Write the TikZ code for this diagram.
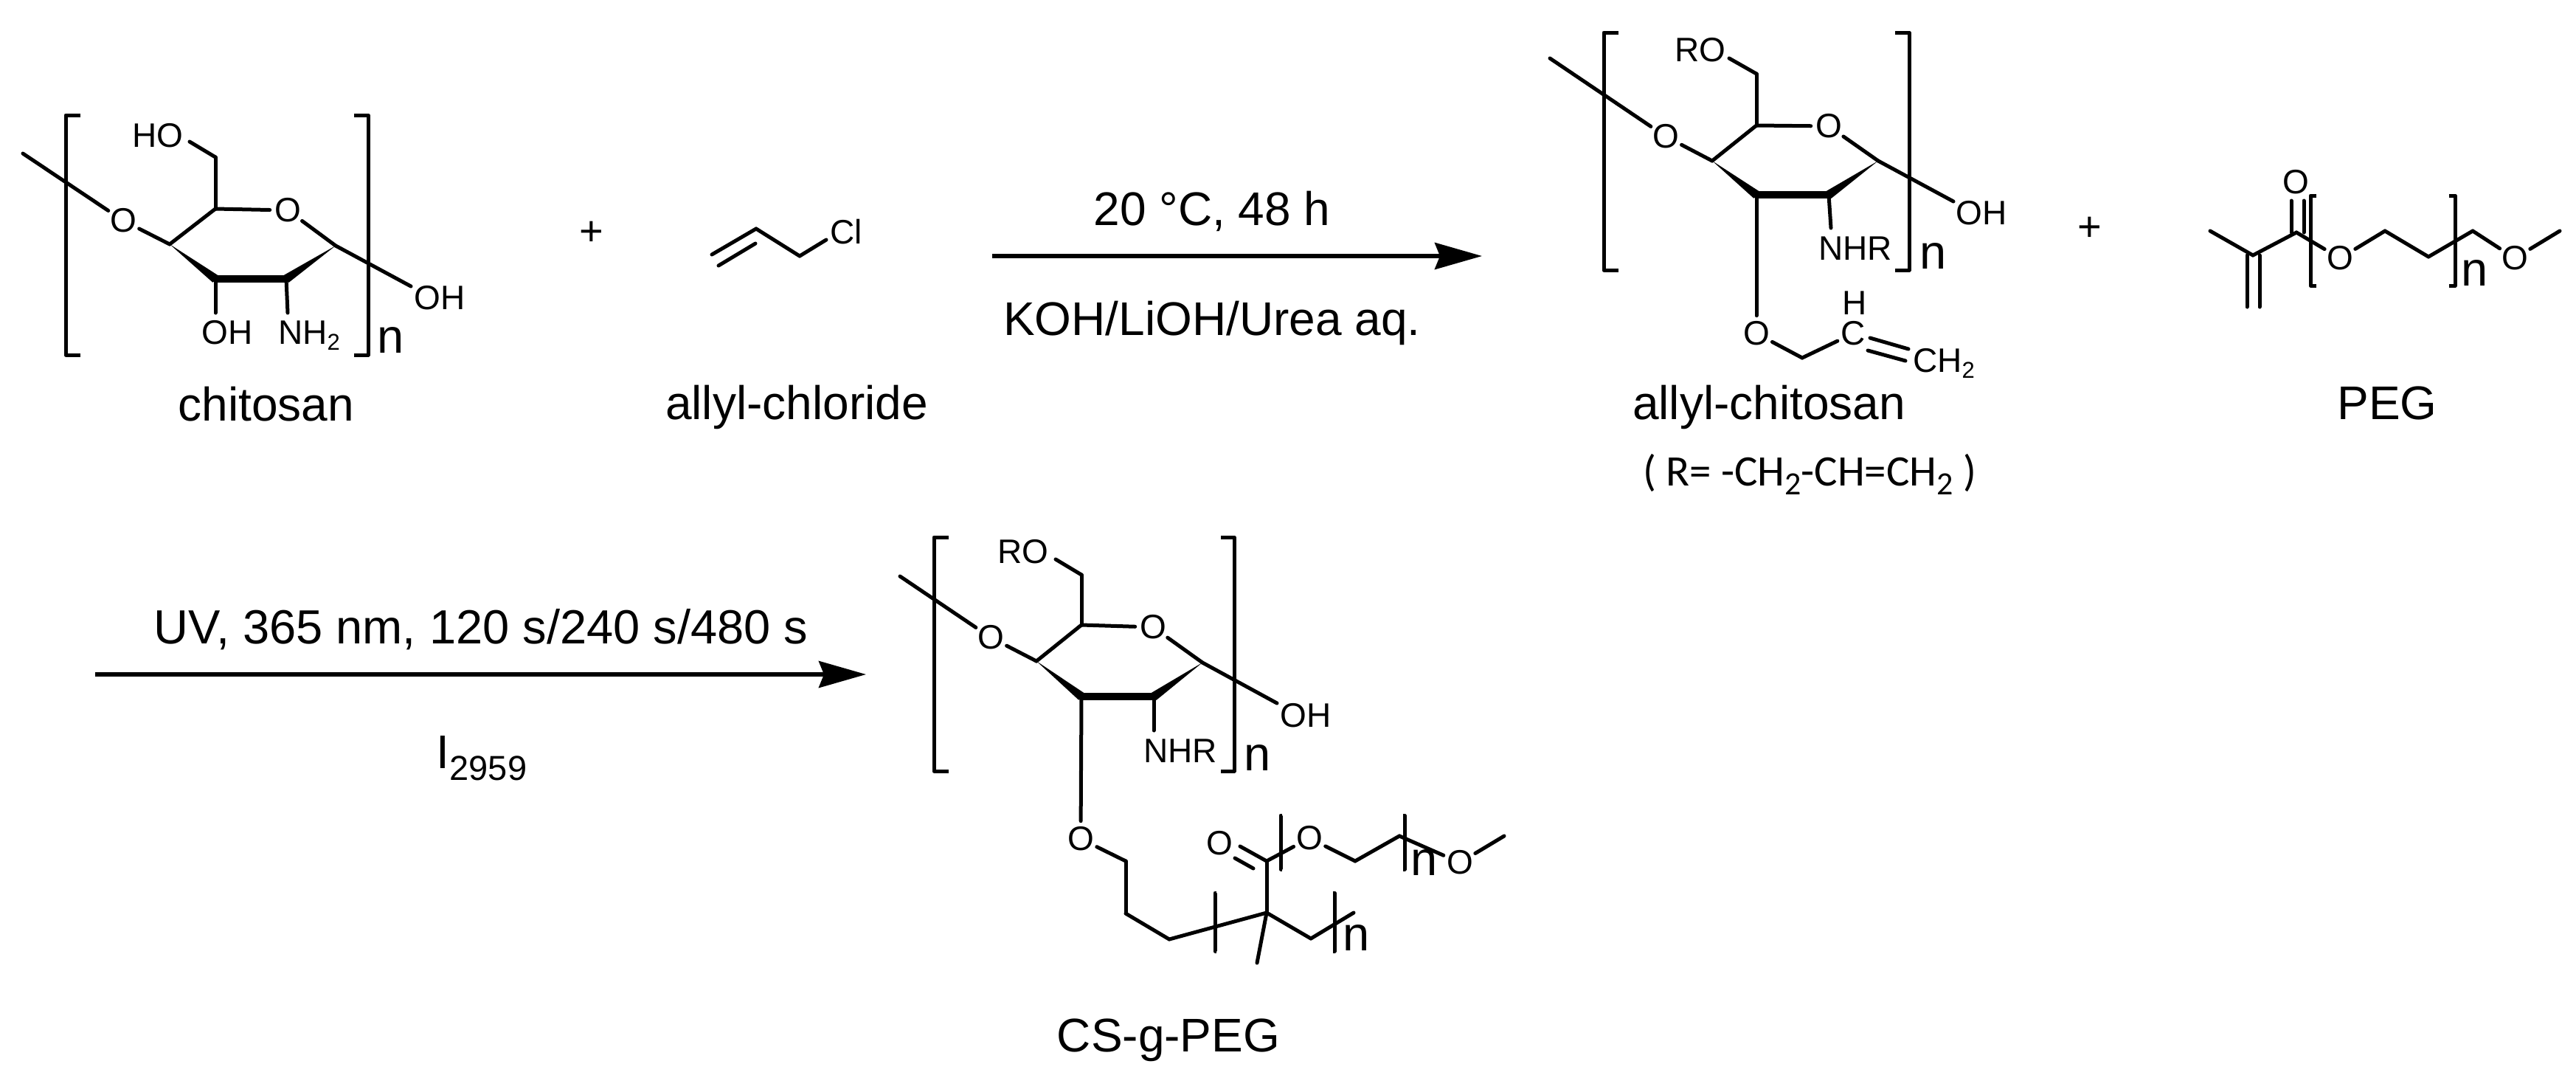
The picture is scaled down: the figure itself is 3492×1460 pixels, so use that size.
\documentclass[tikz,border=0pt]{standalone}
\usepackage{fontspec}
\setmainfont{Liberation Sans}
\newfontfamily\carlitofont{Carlito}
\usetikzlibrary{arrows.meta,calc}
\newcommand{\wedgebond}[2]{\fill ($(#2)!6pt!90:(#1)$) -- (#1) -- ($(#2)!6pt!-90:(#1)$) -- cycle;}
\newcommand{\sugarbonds}[1]{
    \foreach \a/\b in {me/o4,o4/c4,c4/c5,c5/o5,o5/c1,c1/oh,c5/c6,c6/ro,c2/nh}{
        \draw[bond] (#1\a) -- (#1\b);
    };
    \wedgebond{#1c4}{#1c3}
    \wedgebond{#1c1}{#1c2}
    \draw[bar] (#1c3) -- (#1c2);
}
\newcommand{\leftbrak}[4]{\draw[bond,line cap=butt] (#4,#2) -- (#1,#2) -- (#1,#3) -- (#4,#3);}
\newcommand{\subtwo}[1]{\raisebox{-#1pt}{\fontsize{31}{31}\selectfont 2}}
\begin{document}
\begin{tikzpicture}[x=1pt,y=-1pt,
    bond/.style={line width=5pt,line cap=round,line join=round},
    bar/.style={line width=10pt,line cap=round},
    atom/.style={circle,inner sep=0pt,font=\fontsize{46}{50}\selectfont},
    letter/.style={anchor=base,inner sep=0pt,font=\fontsize{46}{50}\selectfont},
    count/.style={anchor=base,inner sep=0pt,font=\fontsize{65}{70}\selectfont},
    tag/.style={inner sep=0pt,anchor=base,font=\fontsize{64}{70}\selectfont},
    reaction/.style={line width=5.5pt,-{Stealth[length=64pt,width=36pt,inset=7pt]}}]
    \useasboundingbox (0,0) rectangle (3492,1460);

    \foreach \n/\x/\y in {me/31/208,c1/455/333,c2/388/378,c3/292/378,c4/230/331,c5/292/283,
            c6/292/213,ro/257/192,oh/557/388,nh/390/424,ol/292/424}{
        \coordinate (a\n) at (\x,\y);
    };
    \node[atom] (ao4) at (167,299) {O};
    \node[atom] (ao5) at (390,285) {O};
    \sugarbonds{a}
    \draw[bond] (ac3) -- (aol);
    \node[letter] (aho) at (214,199) {HO};
    \node[letter] (aohr) at (596,419) {OH};
    \node[letter] (aohd) at (308,466) {OH};
    \node[letter,anchor=base west] (anh) at (377,466) {NH\subtwo{8}};
    \leftbrak{89}{156}{481}{109}
    \leftbrak{499}{156}{481}{480}
    \node[count] (an) at (530,478) {n};
    \node[tag] (chitosan) at (361,570) {chitosan};

    \node[atom,font=\fontsize{56}{56}\selectfont] (plusa) at (802,316) {+};

    \foreach \n/\x/\y in {ca/965/345,cb/1025/310,cc/974/360,cd/1024/330,ce/1084/347,cf/1120/325}{
        \coordinate (\n) at (\x,\y);
    };
    \draw[bond] (ca) -- (cb);
    \draw[bond] (cc) -- (cd);
    \draw[bond] (cb) -- (ce);
    \draw[bond] (ce) -- (cf);
    \node[letter] (cl) at (1147,330) {Cl};
    \node[tag] (chloride) at (1080,568) {allyl-chloride};

    \coordinate (arra) at (1345,347);
    \coordinate (arrb) at (2009,347);
    \draw[reaction] (arra) -- (arrb);
    \node[tag] (temp) at (1643,305) {20 °C, 48 h};
    \node[tag] (base) at (1643,454) {KOH/LiOH/Urea aq.};

    \foreach \n/\x/\y in {me/2101/79,c1/2546/218,c2/2479/264,c3/2381/264,c4/2321/218,c5/2381/170,
            c6/2381/100,ro/2344/79,oh/2648/273,nh/2482/309,m/2443/485,da/2535/458,db/2587/473,
            dc/2532/475,dd/2583/489}{
        \coordinate (b\n) at (\x,\y);
    };
    \node[atom] (bo4) at (2258,185) {O};
    \node[atom] (bo5) at (2479,171) {O};
    \sugarbonds{b}
    \node[atom] (bo3) at (2381,452) {O};
    \node[atom] (bcc) at (2512,452) {C};
    \draw[bond] (bc3) -- (bo3);
    \draw[bond] (bo3) -- (bm);
    \draw[bond] (bm) -- (bcc);
    \draw[bond] (bda) -- (bdb);
    \draw[bond] (bdc) -- (bdd);
    \node[letter] (bro) at (2305,83) {RO};
    \node[letter] (bohr) at (2686,304) {OH};
    \node[letter] (bnh) at (2515,352) {NHR};
    \node[letter] (bh) at (2514,426) {H};
    \node[letter,anchor=base west] (bch) at (2593,504) {CH\subtwo{8}};
    \leftbrak{2174}{44}{366}{2194}
    \leftbrak{2588}{44}{366}{2569}
    \node[count] (bn) at (2621,364) {n};
    \node[tag] (allyl) at (2398,568) {allyl-chitosan};
    \node[tag,font=\carlitofont\fontsize{59}{64}\selectfont] (rdef) at (2453,658)
        {( R= -CH\raisebox{-12pt}{\fontsize{44}{44}\selectfont 2}-CH=CH\raisebox{-12pt}{\fontsize{44}{44}\selectfont 2} )};

    \node[atom,font=\fontsize{56}{56}\selectfont] (plusb) at (2833,310) {+};

    \foreach \n/\x/\y in {me/2996/313,ca/3054/346,ea/3046/346,eb/3046/416,ec/3063/346,ed/3063/416,
            cb/3113/315,fa/3106/315,fb/3106/272,fc/3123/315,fd/3123/272,
            cc/3233/313,cd/3292/348,ce/3352/313,cf/3470/313}{
        \coordinate (p\n) at (\x,\y);
    };
    \node[atom] (poa) at (3172,350) {O};
    \node[atom] (pob) at (3409,350) {O};
    \node[atom] (poc) at (3112,247) {O};
    \foreach \a/\b in {me/ca,ca/cb,cb/oa,oa/cc,cc/cd,cd/ce,ce/ob,ob/cf,ea/eb,ec/ed,fa/fb,fc/fd}{
        \draw[bond] (p\a) -- (p\b);
    };
    \leftbrak{3132}{265}{387}{3140}
    \leftbrak{3328}{265}{387}{3320}
    \node[count] (pn) at (3355,387) {n};
    \node[tag] (peg) at (3236,568) {PEG};

    \coordinate (arrc) at (129,914);
    \coordinate (arrd) at (1174,914);
    \draw[reaction] (arrc) -- (arrd);
    \node[tag,font=\fontsize{65}{70}\selectfont] (uv) at (652,872) {UV, 365 nm, 120 s/240 s/480 s};
    \node[tag] (init) at (653,1041) {I\raisebox{-16pt}{\fontsize{47}{47}\selectfont 2959}};

    \foreach \n/\x/\y in {me/1220/781,c1/1630/898,c2/1564/944,c3/1466/944,c4/1405/896,c5/1466/847,
            c6/1466/779,ro/1431/758,oh/1731/953,nh/1564/990,ca/1526/1167,cb/1526/1238,cc/1585/1273,
            cd/1717/1237,ce/1777/1272,cf/1835/1237,cg/1704/1305,ch/1717/1167,da/1717/1167,db/1681/1147,
            dc/1699/1177,dd/1674/1163,ci/1837/1167,cj/1897/1133,ck/2039/1133}{
        \coordinate (g\n) at (\x,\y);
    };
    \node[atom] (go4) at (1343,864) {O};
    \node[atom] (go5) at (1563,850) {O};
    \sugarbonds{g}
    \node[atom] (go3) at (1465,1137) {O};
    \node[atom] (goa) at (1653,1143) {O};
    \node[atom] (gob) at (1775,1136) {O};
    \node[atom] (goc) at (1979,1169) {O};
    \foreach \a/\b in {c3/o3,o3/ca,ca/cb,cb/cc,cc/cd,cd/ce,ce/cf,cd/cg,cd/ch,da/db,dc/dd,ch/ob,ob/ci,ci/cj,cj/oc,oc/ck}{
        \draw[bond] (g\a) -- (g\b);
    };
    \node[letter] (gro) at (1387,763) {RO};
    \node[letter] (gohr) at (1770,985) {OH};
    \node[letter] (gnh) at (1600,1033) {NHR};
    \leftbrak{1266}{728}{1045}{1286}
    \leftbrak{1673}{728}{1045}{1655}
    \node[count] (gna) at (1705,1044) {n};
    \leftbrak{1647}{1210}{1289}{1649}
    \leftbrak{1809}{1210}{1289}{1807}
    \node[count] (gnb) at (1839,1288) {n};
    \leftbrak{1736}{1105}{1178}{1738}
    \leftbrak{1904}{1105}{1178}{1902}
    \node[count] (gnc) at (1931,1186) {n};
    \node[tag] (csg) at (1584,1425) {CS-g-PEG};
\end{tikzpicture}
\end{document}
